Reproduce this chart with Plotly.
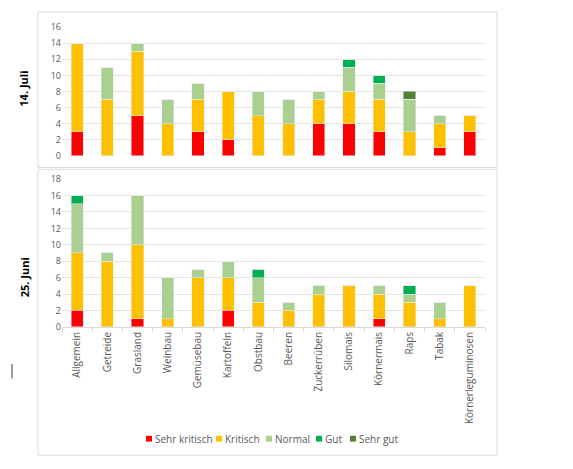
import plotly.graph_objects as go
from plotly.subplots import make_subplots

# Kulturen
kulturen = ["Allgemein", "Getreide", "Grasland", "Weinbau", "Gemüsebau", "Kartoffeln",
            "Obstbau", "Beeren", "Zuckerrüben", "Silomais", "Körnermais", "Raps",
            "Tabak", "Körnerleguminosen"]

stufen = ["Sehr kritisch", "Kritisch", "Normal", "Gut", "Sehr gut"]
farben = ["#FF0000", "#FFC000", "#A9D08E", "#00B050", "#548235"]

# 14. Juli
juli_sehr_kritisch = [3, 0, 5, 0, 3, 2, 0, 0, 4, 4, 3, 0, 1, 3]
juli_kritisch = [11, 7, 8, 4, 4, 6, 5, 4, 3, 4, 4, 3, 3, 2]
juli_normal = [0, 4, 1, 3, 2, 0, 3, 3, 1, 3, 2, 4, 1, 0]
juli_gut = [0, 0, 0, 0, 0, 0, 0, 0, 0, 1, 1, 0, 0, 0]
juli_sehr_gut = [0, 0, 0, 0, 0, 0, 0, 0, 0, 0, 0, 1, 0, 0]

# 25. Juni
juni_sehr_kritisch = [2, 0, 1, 0, 0, 2, 0, 0, 0, 0, 1, 0, 0, 0]
juni_kritisch = [7, 8, 9, 1, 6, 4, 3, 2, 4, 5, 3, 3, 1, 5]
juni_normal = [6, 1, 6, 5, 1, 2, 3, 1, 1, 0, 1, 1, 2, 0]
juni_gut = [1, 0, 0, 0, 0, 0, 1, 0, 0, 0, 0, 1, 0, 0]
juni_sehr_gut = [0, 0, 0, 0, 0, 0, 0, 0, 0, 0, 0, 0, 0, 0]

juli = [juli_sehr_kritisch, juli_kritisch, juli_normal, juli_gut, juli_sehr_gut]
juni = [juni_sehr_kritisch, juni_kritisch, juni_normal, juni_gut, juni_sehr_gut]

W, H = 573, 469

fig = make_subplots(rows=2, cols=1)

for i, name in enumerate(stufen):
    fig.add_trace(go.Bar(x=kulturen, y=juli[i], name=name, marker_color=farben[i],
                         showlegend=False), row=1, col=1)
    fig.add_trace(go.Bar(x=kulturen, y=juni[i], name=name, marker_color=farben[i],
                         showlegend=False), row=2, col=1)

grau = "#595959"
fig.update_layout(
    width=W, height=H,
    barmode="stack", bargap=0.6,
    margin=dict(l=0, r=0, t=0, b=0),
    plot_bgcolor="white", paper_bgcolor="white",
    font=dict(family="Open Sans", size=9, color=grau),
    xaxis=dict(domain=[62 / W, 485 / W], showticklabels=False, showgrid=False,
               categoryorder="array", categoryarray=kulturen),
    xaxis2=dict(domain=[62 / W, 485 / W], showgrid=False, tickangle=-90,
                showline=True, linecolor="#D9D9D9", ticks="outside", tickson="boundaries",
                ticklen=4, tickcolor="#D9D9D9", tickfont=dict(size=10, color=grau),
                categoryorder="array", categoryarray=kulturen),
    yaxis=dict(domain=[1 - 153 / H, 1 - 20.7 / H], range=[0, 16], dtick=2,
               gridcolor="#E3E3E3", zeroline=False, tickfont=dict(size=9, color=grau)),
    yaxis2=dict(domain=[1 - 329 / H, 1 - 177 / H], range=[0, 18], dtick=2,
                gridcolor="#E3E3E3", zeroline=False, tickfont=dict(size=9, color=grau)),
)

# Legende von Hand (kompakt wie in Excel)
leg_x = [146, 216, 266, 316, 350]
leg_y = 1 - 444 / H
for i, name in enumerate(stufen):
    fig.add_shape(type="rect", xref="paper", yref="paper",
                  x0=leg_x[i] / W, x1=(leg_x[i] + 6) / W,
                  y0=leg_y - 3 / H, y1=leg_y + 3 / H,
                  fillcolor=farben[i], line=dict(width=0))
    fig.add_annotation(text=name, x=(leg_x[i] + 7) / W, y=leg_y, xref="paper", yref="paper",
                       xanchor="left", yanchor="middle", showarrow=False,
                       font=dict(size=10, color=grau))

# Titel der Y-Achsen
fig.add_annotation(text="<b>14. Juli</b>", x=24 / W, y=1 - 84 / H, xref="paper", yref="paper",
                   xanchor="center", yanchor="middle",
                   textangle=-90, showarrow=False, font=dict(size=11, color="black"))
fig.add_annotation(text="<b>25. Juni</b>", x=24 / W, y=1 - 278 / H, xref="paper", yref="paper",
                   xanchor="center", yanchor="middle",
                   textangle=-90, showarrow=False, font=dict(size=11, color="black"))

# Rahmen der beiden Diagramme
fig.add_shape(type="rect", xref="paper", yref="paper", x0=38 / W, x1=497 / W,
              y0=1 - 165 / H, y1=1 - 5 / H, line=dict(color="#D9D9D9", width=1))
fig.add_shape(type="rect", xref="paper", yref="paper", x0=38 / W, x1=497 / W,
              y0=1 - 461 / H, y1=1 - 167 / H, line=dict(color="#D9D9D9", width=1))
# kleiner Strich links
fig.add_shape(type="line", xref="paper", yref="paper", x0=12 / W, x1=12 / W,
              y0=1 - 382 / H, y1=1 - 367 / H, line=dict(color="#404040", width=1))

fig.write_html("out.html", config={"displayModeBar": False},
               post_script="document.body.style.margin='0px';")
